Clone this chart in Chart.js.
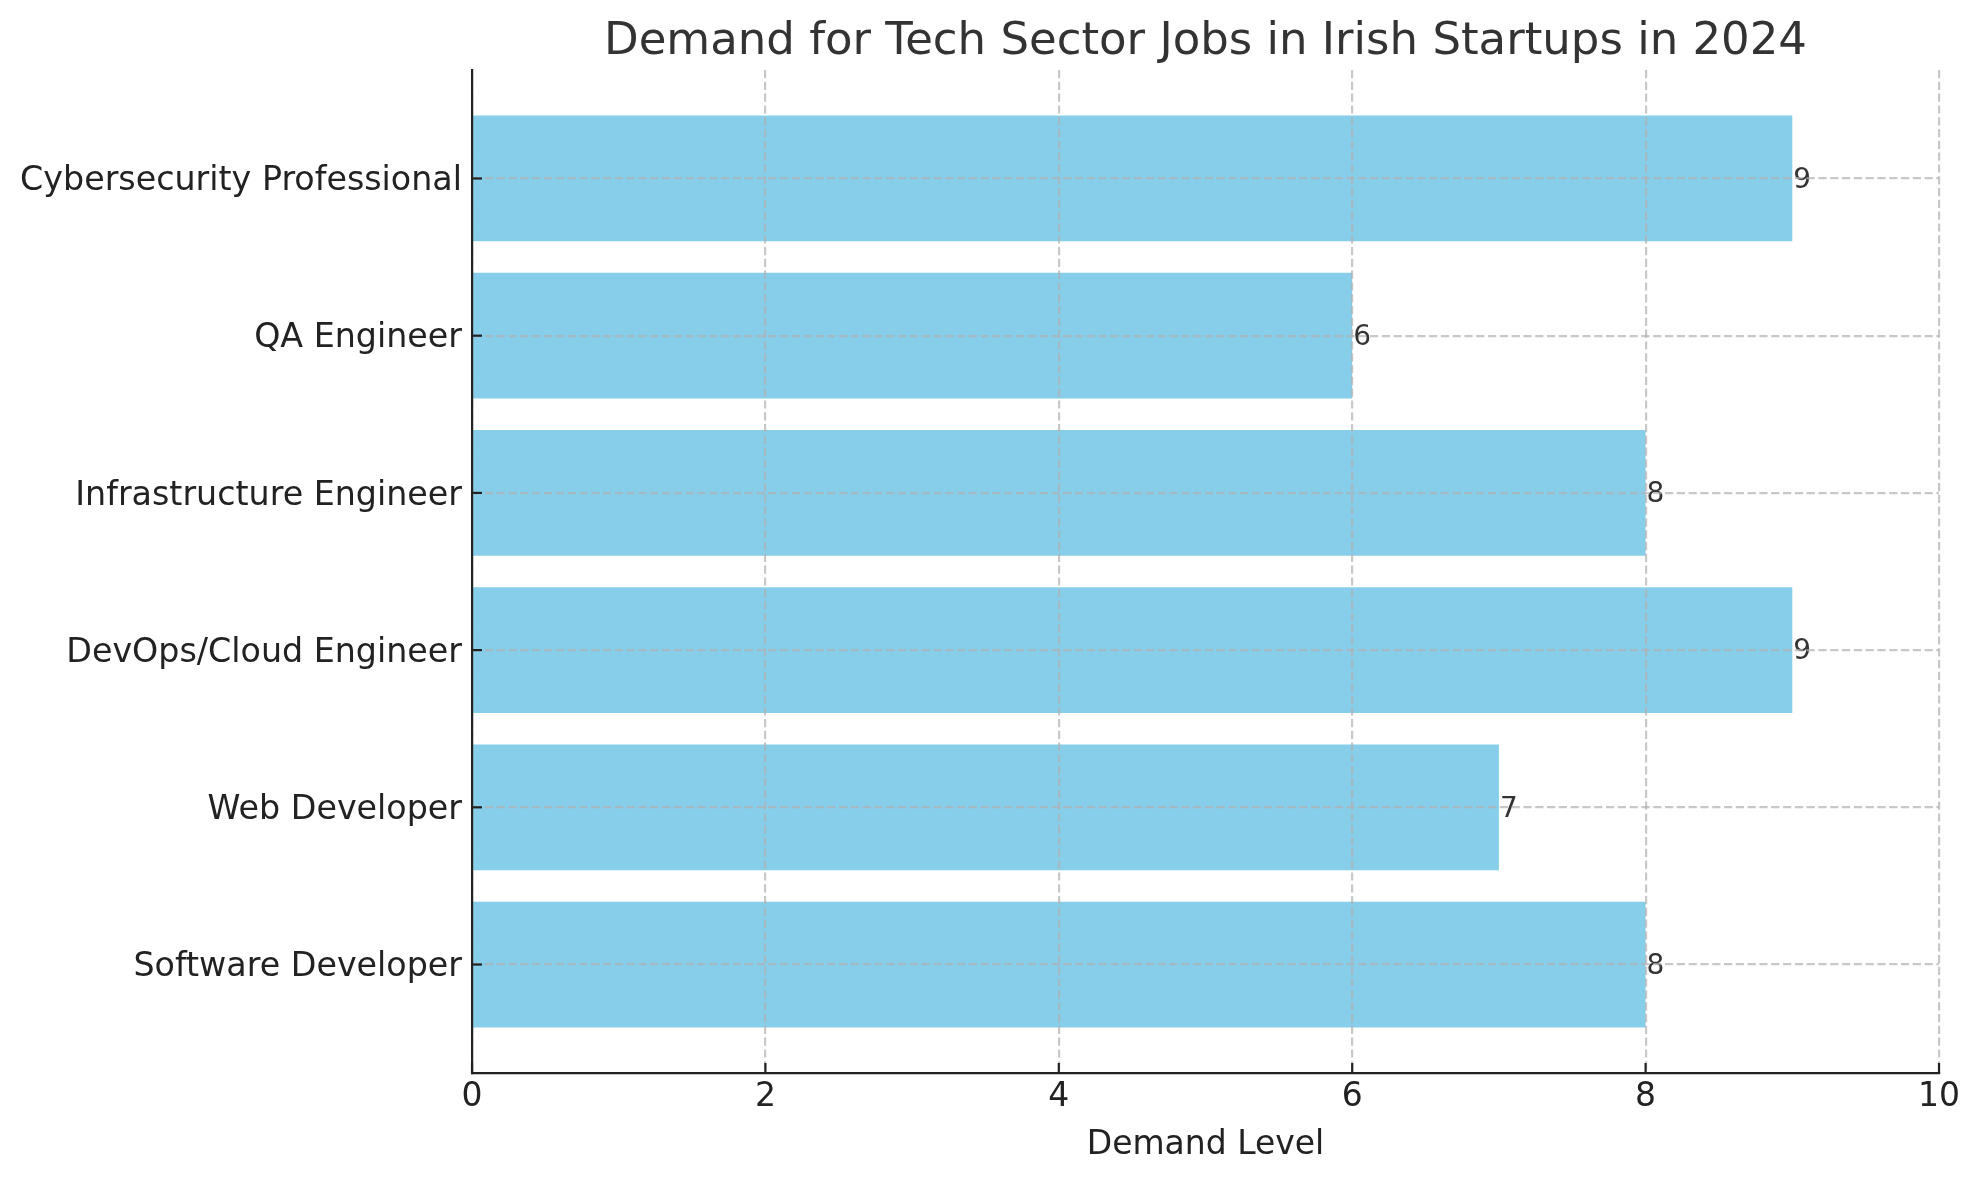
<!DOCTYPE html>
<html>
<head>
<meta charset="utf-8">
<script src="https://cdn.jsdelivr.net/npm/chart.js@4.4.1/dist/chart.umd.min.js"></script>
<style>
  html, body { margin: 0; padding: 0; background: #fff; }
  #wrap { width: 1979px; height: 1180px; }
</style>
</head>
<body>
<div id="wrap"><canvas id="demand"></canvas></div>
<script>
// bottom to top, like the reference
const jobs = [
  "Software Developer",
  "Web Developer",
  "DevOps/Cloud Engineer",
  "Infrastructure Engineer",
  "QA Engineer",
  "Cybersecurity Professional"
];
const demand = [8, 7, 9, 8, 6, 9];
const xTicks = [0, 2, 4, 6, 8, 10];

Chart.defaults.font.family = "DejaVu Sans";

const ctx = document.getElementById("demand");

// value text at the end of each bar
const barValues = {
  id: "barValues",
  afterDatasetsDraw(chart) {
    const c = chart.ctx;
    const meta = chart.getDatasetMeta(0);
    c.save();
    c.font = "28px 'DejaVu Sans'";
    c.fillStyle = "#333";
    c.textAlign = "left";
    c.textBaseline = "middle";
    meta.data.forEach((bar, i) => {
      c.fillText(String(demand[i]), bar.x + 1, bar.y + 2);
    });
    c.restore();
  }
};

// matplotlib style inward tick marks
const innerTicks = {
  id: "innerTicks",
  afterDraw(chart) {
    const c = chart.ctx;
    const xs = chart.scales.x, ys = chart.scales.y;
    const area = chart.chartArea;
    c.save();
    c.strokeStyle = "#222";
    c.lineWidth = 2.2;
    xTicks.forEach(v => {
      const px = xs.getPixelForValue(v);
      c.beginPath();
      c.moveTo(px, area.bottom);
      c.lineTo(px, area.bottom - 10);
      c.stroke();
    });
    jobs.forEach((_, i) => {
      const py = ys.getPixelForValue(i);
      c.beginPath();
      c.moveTo(area.left, py);
      c.lineTo(area.left + 10, py);
      c.stroke();
    });
    c.restore();
  }
};

new Chart(ctx, {
  type: "bar",
  data: {
    datasets: [{
      data: demand.map((v, i) => ({ x: v, y: i })),
      backgroundColor: "#87CEEB",
      borderWidth: 0,
      barPercentage: 0.8,
      categoryPercentage: 1.0
    }]
  },
  options: {
    indexAxis: "y",
    responsive: true,
    maintainAspectRatio: false,
    animation: false,
    devicePixelRatio: 1,
    layout: { padding: { left: 0, right: 40, top: 0, bottom: 0 } },
    plugins: {
      legend: { display: false },
      tooltip: { enabled: false },
      title: {
        display: true,
        fullSize: false,
        text: "Demand for Tech Sector Jobs in Irish Startups in 2024",
        color: "#333",
        font: { size: 45, weight: "normal" },
        padding: { top: 15, bottom: 1 }
      }
    },
    scales: {
      x: {
        type: "linear",
        min: 0,
        max: 10,
        offset: false,
        afterBuildTicks: s => { s.ticks = xTicks.map(v => ({ value: v })); },
        afterFit: s => { s.height = 107; },
        grid: {
          color: "rgba(176,176,176,0.7)",
          lineWidth: 2.2,
          drawTicks: false,
          offset: false,
          z: 1
        },
        border: { display: true, color: "#222", width: 2.2, dash: [8.2, 3.6], z: 2 },
        ticks: {
          color: "#222",
          font: { size: 33 },
          padding: 5
        },
        title: {
          display: true,
          text: "Demand Level",
          color: "#222",
          font: { size: 33 },
          padding: { top: 0, bottom: 15 }
        }
      },
      y: {
        type: "linear",
        min: -0.69,
        max: 5.69,
        offset: false,
        afterBuildTicks: s => { s.ticks = jobs.map((_, i) => ({ value: i })); },
        afterFit: s => { s.width = 472; },
        grid: {
          color: "rgba(176,176,176,0.7)",
          lineWidth: 2.2,
          drawTicks: false,
          offset: false,
          z: 1
        },
        border: { display: true, color: "#222", width: 2.2, dash: [8.2, 3.6], z: 2 },
        ticks: {
          color: "#222",
          font: { size: 33.3 },
          padding: 10,
          labelOffset: 3,
          callback: v => jobs[v]
        }
      }
    }
  },
  plugins: [barValues, innerTicks]
});
</script>
</body>
</html>
